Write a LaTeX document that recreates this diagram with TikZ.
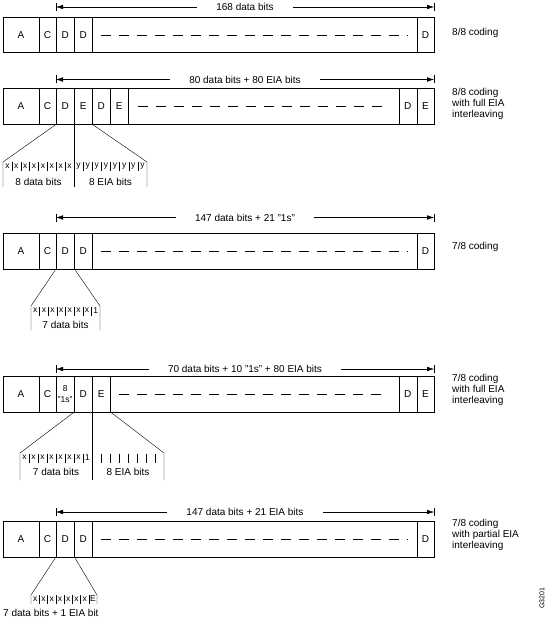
\documentclass[tikz,border=0pt]{standalone}
\usepackage{fontspec}
\setmainfont{Liberation Sans}
\usetikzlibrary{arrows.meta}

\begin{document}
\begin{tikzpicture}[
  x=1pt,y=-1pt,
  >={Latex[length=7pt,width=4.5pt]},
  every node/.style={font=\fontsize{10}{11}\selectfont},
  cell/.style={draw,anchor=north west,minimum height=35.5pt,inner sep=0pt},
  bit/.style={font=\fontsize{8.5}{9}\selectfont,inner sep=0pt},
  span/.style={fill=white,inner xsep=19pt,inner ysep=1pt},
  side/.style={anchor=west,align=left,inner sep=0pt},
  gap/.style={dash pattern=on 10pt off 8pt}
]
  \useasboundingbox (0,0) rectangle (548,623);

  % 8/8 coding
  \foreach \n/\x/\w/\t in {a/3/35.5/A,c/38.5/17.5/C,d/56/18/D,e/74/18/D,m/92/324.5/{},z/416.5/17.5/D}
    \node[cell,minimum width=\w pt] (p\n) at (\x,17) {\t};
  \draw[gap] ([xshift=9pt]pm.west) -- ([xshift=-9pt]pm.east);
  \coordinate (pl) at (56,7); \coordinate (pr) at (434,7);
  \draw[<->] (pl) -- (pr) node[midway,span] (pt) {168 data bits};
  \draw ([yshift=4pt]pl) -- ([yshift=-4pt]pl) ([yshift=4pt]pr) -- ([yshift=-4pt]pr);
  \node[side] (pn) at (452,33) {8/8 coding};

  % 8/8 coding, full EIA
  \foreach \n/\x/\w/\t in {a/3/35.5/A,c/38.5/17.5/C,d/56/18/D,e/74/18/E,f/92/18/D,g/110/18/E,m/128/270.5/{},y/398.5/18/D,z/416.5/17.5/E}
    \node[cell,minimum width=\w pt] (q\n) at (\x,88.5) {\t};
  \draw[gap] ([xshift=10pt]qm.west) -- ([xshift=-12pt]qm.east);
  \coordinate (ql) at (56,79.5); \coordinate (qr) at (434,79.5);
  \draw[<->] (ql) -- (qr) node[midway,span] (qt) {80 data bits + 80 EIA bits};
  \draw ([yshift=4pt]ql) -- ([yshift=-4pt]ql) ([yshift=4pt]qr) -- ([yshift=-4pt]qr);
  \node[side] (qn) at (452,104) {8/8 coding\\with full EIA\\interleaving};
  \coordinate (qbl) at (3,162); \coordinate (qbr) at (147,162);
  \draw (qd.south west) -- (qbl) -- ++(0,25);
  \draw (qe.south east) -- (qbr) -- ++(0,25);
  \draw (qd.south east) -- ++(0,63);
  \foreach \i in {0,...,7} {
    \node[bit] (qx\i) at ({7.44+8.875*\i},166) {x};
    \node[bit] (qy\i) at ({78.56+9.125*\i},166) {y};
  }
  \foreach \i in {1,...,7}
    \draw ({3+8.875*\i},162) -- ++(0,9) ({74+9.125*\i},162) -- ++(0,9);
  \node (qd8) at (38.5,181.5) {8 data bits};
  \node (qe8) at (110.5,181.5) {8 EIA bits};

  % 7/8 coding
  \foreach \n/\x/\w/\t in {a/3/35.5/A,c/38.5/17.5/C,d/56/18/D,e/74/18/D,m/92/324.5/{},z/416.5/17.5/D}
    \node[cell,minimum width=\w pt] (r\n) at (\x,233) {\t};
  \draw[gap] ([xshift=9pt]rm.west) -- ([xshift=-9pt]rm.east);
  \coordinate (rl) at (56,217.5); \coordinate (rr) at (434,217.5);
  \draw[<->] (rl) -- (rr) node[midway,span] (rt) {147 data bits + 21 "1s"};
  \draw ([yshift=4pt]rl) -- ([yshift=-4pt]rl) ([yshift=4pt]rr) -- ([yshift=-4pt]rr);
  \node[side] (rn) at (452,247) {7/8 coding};
  \coordinate (rbl) at (31,306); \coordinate (rbr) at (100,306);
  \draw (rd.south west) -- (rbl) -- ++(0,24);
  \draw (rd.south east) -- (rbr) -- ++(0,24);
  \foreach \i/\t in {0/x,1/x,2/x,3/x,4/x,5/x,6/x,7/1}
    \node[bit] (rx\i) at ({35.31+8.625*\i},310.5) {\t};
  \foreach \i in {1,...,7}
    \draw ({31+8.625*\i},306.5) -- ++(0,9);
  \node (rd7) at (65.5,325) {7 data bits};

  % 7/8 coding, full EIA
  \foreach \n/\x/\w/\t in {a/3/35.5/A,c/38.5/17.5/C,d/74/18/D,e/92/18/E,m/110/288.5/{},y/398.5/18/D,z/416.5/17.5/E}
    \node[cell,minimum width=\w pt] (s\n) at (\x,376) {\t};
  \node[cell,minimum width=18pt,align=center,font=\fontsize{8.5}{11}\selectfont] (so) at (56,376) {8\\"1s"};
  \draw[gap] ([xshift=9pt]sm.west) -- ([xshift=-12pt]sm.east);
  \coordinate (sl) at (56,369); \coordinate (sr) at (434,369);
  \draw[<->] (sl) -- (sr) node[midway,span] (st) {70 data bits + 10 "1s" + 80 EIA bits};
  \draw ([yshift=4pt]sl) -- ([yshift=-4pt]sl) ([yshift=4pt]sr) -- ([yshift=-4pt]sr);
  \node[side] (sn) at (452,390) {7/8 coding\\with full EIA\\interleaving};
  \coordinate (sbl) at (20,453); \coordinate (sbr) at (164,453);
  \draw (so.south east) -- (sbl) -- ++(0,27);
  \draw (se.south east) -- (sbr) -- ++(0,27);
  \draw (sd.south east) -- ++(0,68.5);
  \foreach \i/\t in {0/x,1/x,2/x,3/x,4/x,5/x,6/x,7/1}
    \node[bit] (sx\i) at ({24.5+9*\i},457.5) {\t};
  \foreach \i in {1,...,7}
    \draw ({20+9*\i},453.5) -- ++(0,9) ({92+9*\i},453.5) -- ++(0,9);
  \node (sd7) at (56,472) {7 data bits};
  \node (se8) at (128,472) {8 EIA bits};

  % 7/8 coding, partial EIA
  \foreach \n/\x/\w/\t in {a/3/35.5/A,c/38.5/17.5/C,d/56/18/D,e/74/18/D,m/92/324.5/{},z/416.5/17.5/D}
    \node[cell,minimum width=\w pt] (t\n) at (\x,521) {\t};
  \draw[gap] ([xshift=9pt]tm.west) -- ([xshift=-9pt]tm.east);
  \coordinate (tl) at (56,512); \coordinate (tr) at (434,512);
  \draw[<->] (tl) -- (tr) node[midway,span] (tt) {147 data bits + 21 EIA bits};
  \draw ([yshift=4pt]tl) -- ([yshift=-4pt]tl) ([yshift=4pt]tr) -- ([yshift=-4pt]tr);
  \node[side] (tn) at (452,535) {7/8 coding\\with partial EIA\\interleaving};
  \coordinate (tbl) at (31,595); \coordinate (tbr) at (97,595);
  \draw (td.south west) -- (tbl) -- ++(0,9);
  \draw (td.south east) -- (tbr) -- ++(0,9);
  \foreach \i/\t in {0/x,1/x,2/x,3/x,4/x,5/x,6/x,7/E}
    \node[bit] (tx\i) at ({35.13+8.25*\i},599) {\t};
  \foreach \i in {1,...,7}
    \draw ({31+8.25*\i},595) -- ++(0,9);
  \node[anchor=west,inner sep=0pt] (td7) at (3,613) {7 data bits + 1 EIA bit};

  \node[rotate=90,font=\fontsize{7}{8}\selectfont] (gid) at (542,598) {G3201};
\end{tikzpicture}
\end{document}
